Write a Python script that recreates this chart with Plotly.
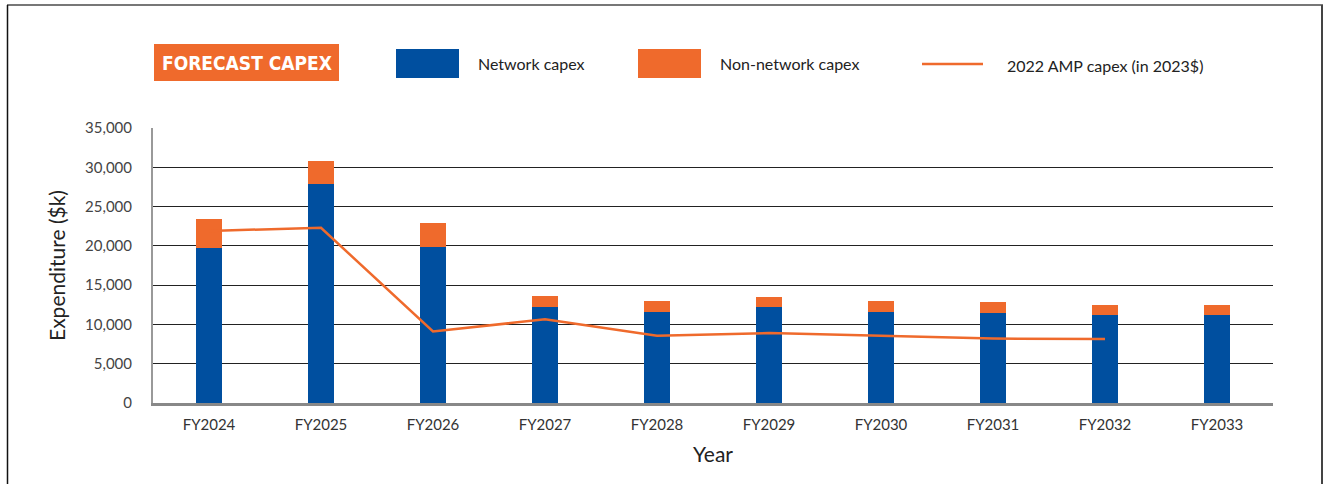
import plotly.graph_objects as go

years = ["FY2024", "FY2025", "FY2026", "FY2027", "FY2028", "FY2029", "FY2030", "FY2031", "FY2032", "FY2033"]
network_capex = [19750, 27900, 19850, 12200, 11600, 12200, 11600, 11450, 11200, 11200]
non_network_capex = [3650, 2900, 3050, 1400, 1400, 1300, 1400, 1400, 1270, 1270]
amp_2022_capex = [21900, 22300, 9100, 10650, 8550, 8900, 8550, 8200, 8150, None]
y_ticks = [0, 5000, 10000, 15000, 20000, 25000, 30000, 35000]

BLUE = "#004F9F"
ORANGE = "#EF6A2C"
FONT = "Lato, 'Noto Sans', sans-serif"

# plot area in pixels
L, R, T, B = 153, 1273, 128, 403
W, H = R - L, B - T


def px(x):
    return (x - L) / W


def py(y):
    return (B - y) / H


fig = go.Figure()
fig.add_trace(go.Bar(x=years, y=network_capex, name="Network capex", marker_color=BLUE,
                     marker_line_width=0, width=0.24))
fig.add_trace(go.Bar(x=years, y=non_network_capex, name="Non-network capex", marker_color=ORANGE,
                     marker_line_width=0, width=0.24))
fig.add_trace(go.Scatter(x=years, y=amp_2022_capex, name="2022 AMP capex (in 2023$)", mode="lines",
                         line=dict(color=ORANGE, width=2.5)))

shapes = []
# outer frame
shapes.append(dict(type="line", xref="paper", yref="paper", x0=px(7), x1=px(1323), y0=py(5), y1=py(5),
                   line=dict(color="#777777", width=2)))
shapes.append(dict(type="line", xref="paper", yref="paper", x0=px(7.5), x1=px(7.5), y0=py(5), y1=py(490),
                   line=dict(color="#111111", width=1.5)))
shapes.append(dict(type="line", xref="paper", yref="paper", x0=px(1322), x1=px(1322), y0=py(5), y1=py(490),
                   line=dict(color="#444444", width=2)))
# title box
shapes.append(dict(type="rect", xref="paper", yref="paper", x0=px(154), x1=px(339), y0=py(44), y1=py(81),
                   fillcolor=ORANGE, line=dict(width=0)))
# legend swatches
shapes.append(dict(type="rect", xref="paper", yref="paper", x0=px(396), x1=px(459), y0=py(49), y1=py(78),
                   fillcolor=BLUE, line=dict(width=0)))
shapes.append(dict(type="rect", xref="paper", yref="paper", x0=px(638), x1=px(701), y0=py(49), y1=py(78),
                   fillcolor=ORANGE, line=dict(width=0)))
shapes.append(dict(type="line", xref="paper", yref="paper", x0=px(922), x1=px(983), y0=py(64), y1=py(64),
                   line=dict(color=ORANGE, width=2.5)))

annotations = [
    dict(xref="paper", yref="paper", x=px(246.5), y=py(63),
         text="<span style=\"font-stretch:condensed\"><b>FORECAST CAPEX</b></span>", showarrow=False,
         xanchor="center", yanchor="middle",
         font=dict(family="'DejaVu Sans', sans-serif", size=19, color="white")),
    dict(xref="paper", yref="paper", x=px(476), y=py(63), text="Network capex", showarrow=False,
         xanchor="left", yanchor="middle", font=dict(family=FONT, size=16, color="#222222")),
    dict(xref="paper", yref="paper", x=px(718), y=py(63), text="Non-network capex", showarrow=False,
         xanchor="left", yanchor="middle", font=dict(family=FONT, size=16, color="#222222")),
    dict(xref="paper", yref="paper", x=px(1005), y=py(65), text="2022 AMP capex (in 2023$)", showarrow=False,
         xanchor="left", yanchor="middle", font=dict(family=FONT, size=16, color="#222222")),
]

fig.update_layout(
    width=1324, height=484,
    margin=dict(l=L, r=1324 - R, t=T, b=484 - B),
    barmode="stack",
    showlegend=False,
    paper_bgcolor="white",
    plot_bgcolor="white",
    font=dict(family=FONT, color="#333333"),
    shapes=shapes,
    annotations=annotations,
)
fig.update_xaxes(
    showgrid=False, showline=True, linecolor="#888888", linewidth=3,
    tickfont=dict(size=15, color="#333333"), ticks="", ticklabelstandoff=6,
    title=dict(text="Year", font=dict(size=21, color="#222222"), standoff=16),
)
fig.update_yaxes(
    range=[0, 35000], tickvals=y_ticks, tickformat=",d",
    showgrid=True, gridcolor="#222222", gridwidth=1,
    showline=True, linecolor="#999999", linewidth=2,
    zeroline=False,
    tickfont=dict(size=15, color="#444444"), ticks="", ticklabelstandoff=16,
    title=dict(text="Expenditure ($k)", font=dict(size=21, color="#222222"), standoff=14),
)

fig.write_html("out.html")
